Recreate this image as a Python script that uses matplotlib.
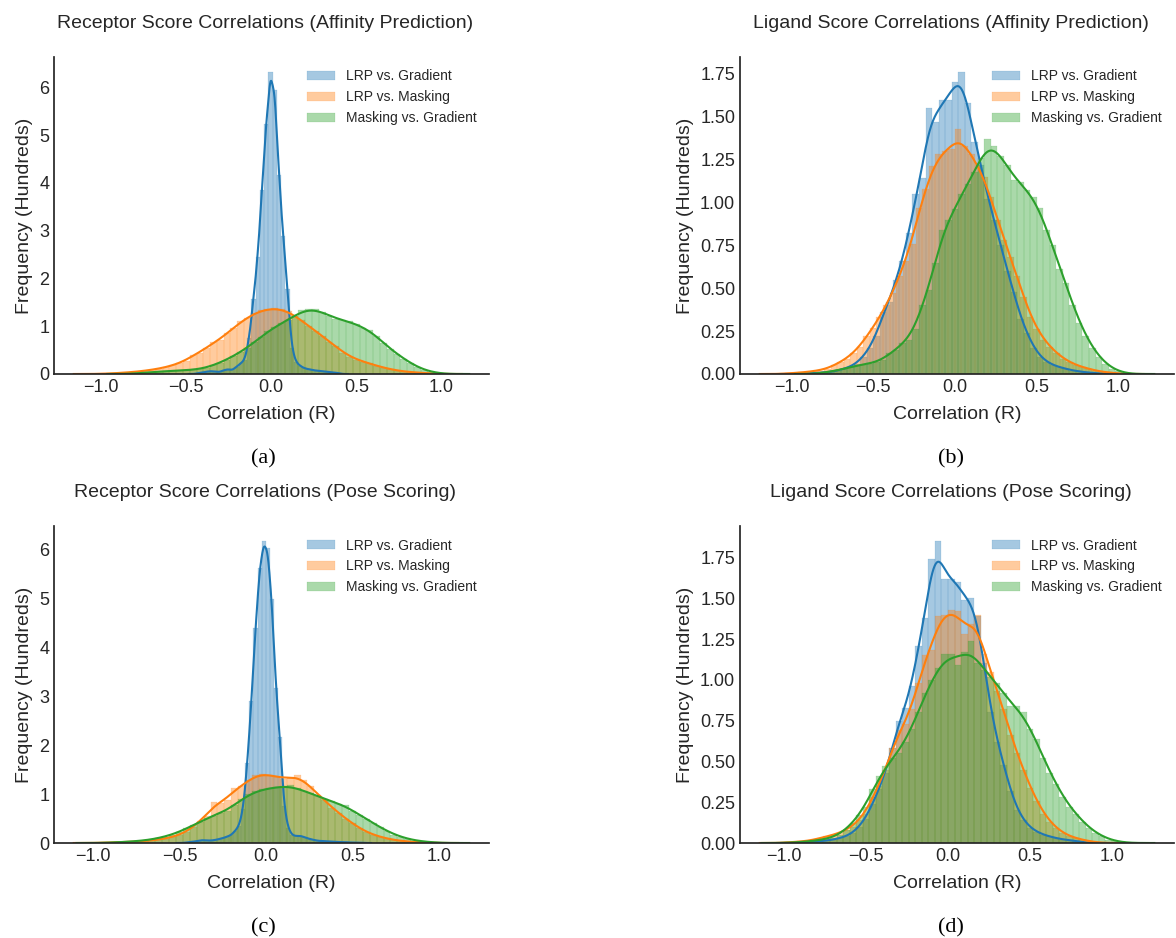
import numpy as np
import matplotlib.pyplot as plt

plt.rcParams['font.family'] = ['Liberation Sans', 'DejaVu Sans']
plt.rcParams['text.color'] = '.15'
plt.rcParams['axes.labelcolor'] = '.15'
plt.rcParams['xtick.color'] = '.15'
plt.rcParams['ytick.color'] = '.15'
plt.rcParams['axes.edgecolor'] = '.15'
plt.rcParams['axes.linewidth'] = 1.25
plt.rcParams['xtick.major.size'] = 0
plt.rcParams['ytick.major.size'] = 0

labels = ['LRP vs. Gradient', 'LRP vs. Masking', 'Masking vs. Gradient']
colors = ['#1f77b4', '#ff7f0e', '#2ca02c']
titles = ['Receptor Score Correlations (Affinity Prediction)',
          'Ligand Score Correlations (Affinity Prediction)',
          'Receptor Score Correlations (Pose Scoring)',
          'Ligand Score Correlations (Pose Scoring)']
captions = ['(a)', '(b)', '(c)', '(d)']
xlabel = 'Correlation (R)'
ylabel = 'Frequency (Hundreds)'

# histograms: left edge of first bin, bin width, bar heights
# (a) receptor, affinity
a_grad_edge, a_grad_width = -0.4425, 0.025
a_grad = [0.02, 0.03, 0.05, 0.06, 0.05, 0.04, 0.08, 0.10, 0.08, 0.15, 0.22, 0.30,
          0.75, 1.57, 2.45, 3.86, 5.24, 6.32, 5.95, 4.17, 2.88, 1.78, 0.55,
          0.25, 0.17, 0.12, 0.10, 0.08, 0.07, 0.06, 0.05, 0.04, 0.03, 0.02]
a_mask_edge, a_mask_width = -1.00, 0.04
a_mask = [0.01, 0.01, 0.02, 0.03, 0.04, 0.05, 0.07, 0.09, 0.11, 0.14, 0.18, 0.22, 0.28,
          0.40, 0.45, 0.55, 0.66, 0.72, 0.85, 0.97, 1.10, 1.18, 1.28, 1.33, 1.36,
          1.39, 1.36, 1.32, 1.22, 1.12, 1.00, 0.90, 0.80, 0.68, 0.58, 0.45, 0.36,
          0.30, 0.26, 0.22, 0.17, 0.13, 0.10, 0.07, 0.05, 0.04, 0.03, 0.02, 0.01]
a_mg_edge, a_mg_width = -0.80, 0.04
a_mg = [0.02, 0.03, 0.04, 0.05, 0.06, 0.06, 0.07, 0.08, 0.09, 0.10,
        0.13, 0.18, 0.24, 0.30, 0.38, 0.46, 0.55, 0.66, 0.78, 0.90,
        0.98, 1.06, 1.14, 1.22, 1.33, 1.37, 1.36, 1.30, 1.22, 1.16,
        1.12, 1.10, 1.05, 0.97, 0.92, 0.80, 0.64, 0.52, 0.42, 0.32,
        0.22, 0.14, 0.08, 0.04, 0.02]

# (b) ligand, affinity
b_grad_edge, b_grad_width = -0.94, 0.04
b_grad = [0.005, 0.005, 0.005, 0.01, 0.01, 0.02, 0.03, 0.04, 0.06, 0.10, 0.15, 0.22,
          0.36, 0.42, 0.55, 0.66, 0.82, 1.05, 1.14, 1.55, 1.47, 1.60, 1.60, 1.70,
          1.76, 1.58, 1.35, 1.22, 1.02, 0.90, 0.75, 0.60, 0.48, 0.32, 0.24, 0.15,
          0.10, 0.07, 0.05, 0.04, 0.03, 0.02, 0.015, 0.01, 0.005, 0.005]
b_mask_edge, b_mask_width = -1.04, 0.04
b_mask = [0.005, 0.005, 0.01, 0.01, 0.02, 0.02, 0.03, 0.05, 0.07, 0.09, 0.12, 0.16, 0.22, 0.27,
          0.33, 0.40, 0.47, 0.57, 0.66, 0.76, 0.97, 1.08, 1.21, 1.28, 1.30, 1.31,
          1.43, 1.33, 1.28, 1.22, 1.15, 1.03, 0.90, 0.78, 0.68, 0.57, 0.45,
          0.33, 0.26, 0.20, 0.16, 0.12, 0.09, 0.07, 0.05, 0.04, 0.03, 0.02, 0.01, 0.01, 0.005]
b_mg_edge, b_mg_width = -0.82, 0.04
b_mg = [0.01, 0.015, 0.02, 0.03, 0.04, 0.05, 0.055, 0.06, 0.07, 0.08,
        0.12, 0.14, 0.18, 0.20, 0.26, 0.40, 0.49, 0.645, 0.84, 0.90,
        0.96, 1.05, 1.11, 1.18, 1.26, 1.37, 1.33, 1.27, 1.22, 1.13,
        1.12, 1.07, 1.03, 0.97, 0.84, 0.75, 0.61, 0.53, 0.40, 0.30,
        0.22, 0.15, 0.10, 0.06, 0.03, 0.015, 0.005]

# (c) receptor, pose
c_grad_edge, c_grad_width = -0.4715, 0.0235
c_grad = [0.01, 0.02, 0.03, 0.05, 0.06, 0.05, 0.05, 0.06, 0.08, 0.10, 0.13, 0.16, 0.25, 0.35,
          0.70, 1.64, 2.90, 4.41, 5.62, 6.18, 6.04, 4.99, 3.18, 2.16, 0.75,
          0.30, 0.16, 0.14, 0.15, 0.12, 0.09, 0.07, 0.05, 0.04, 0.04, 0.03, 0.03,
          0.02, 0.02, 0.02, 0.01, 0.01, 0.01, 0.01]
c_mask_edge, c_mask_width = -0.96, 0.04
c_mask = [0.01, 0.01, 0.015, 0.02, 0.025, 0.03, 0.04, 0.05, 0.07, 0.09, 0.12, 0.16, 0.22,
          0.32, 0.45, 0.56, 0.84, 0.82, 0.89, 1.13, 1.16, 1.28, 1.40, 1.42,
          1.40, 1.36, 1.30, 1.34, 1.40, 1.28, 1.16, 0.98, 0.88, 0.72, 0.62,
          0.50, 0.40, 0.30, 0.22, 0.17, 0.12, 0.09, 0.06, 0.04, 0.03, 0.02, 0.015, 0.01]
c_mg_edge, c_mg_width = -0.92, 0.04
c_mg = [0.01, 0.015, 0.02, 0.03, 0.04, 0.05, 0.07, 0.10, 0.13, 0.17, 0.22,
        0.30, 0.36, 0.43, 0.52, 0.56, 0.62, 0.66, 0.78, 0.90, 1.00, 1.06, 1.10,
        1.12, 1.14, 1.16, 1.19, 1.12, 1.06, 1.02, 0.96, 0.90, 0.85, 0.80, 0.78,
        0.66, 0.58, 0.50, 0.40, 0.32, 0.24, 0.17, 0.12, 0.08, 0.05, 0.03, 0.02, 0.01]

# (d) ligand, pose
d_grad_edge, d_grad_width = -0.92, 0.04
d_grad = [0.005, 0.005, 0.01, 0.01, 0.015, 0.02, 0.03, 0.04, 0.06, 0.10, 0.15,
          0.24, 0.33, 0.43, 0.58, 0.75, 0.83, 0.96, 1.21, 1.38, 1.74, 1.85, 1.62,
          1.62, 1.60, 1.49, 1.50, 1.39, 1.10, 0.80, 0.62, 0.48, 0.32, 0.20,
          0.14, 0.09, 0.07, 0.05, 0.04, 0.03, 0.02, 0.02, 0.01, 0.005]
d_mask_edge, d_mask_width = -1.00, 0.04
d_mask = [0.005, 0.005, 0.01, 0.01, 0.02, 0.03, 0.04, 0.05, 0.06, 0.08, 0.10, 0.14, 0.18,
          0.28, 0.35, 0.45, 0.58, 0.69, 0.73, 0.82, 0.98, 1.15, 1.18, 1.39, 1.40,
          1.43, 1.42, 1.28, 1.34, 1.40, 1.16, 1.05, 0.93, 0.82, 0.66, 0.55,
          0.45, 0.34, 0.26, 0.18, 0.13, 0.09, 0.06, 0.04, 0.03, 0.02, 0.01, 0.005]
d_mg_edge, d_mg_width = -0.96, 0.04
d_mg = [0.005, 0.005, 0.01, 0.01, 0.02, 0.025, 0.03, 0.05, 0.08, 0.12, 0.17, 0.22,
        0.33, 0.41, 0.47, 0.52, 0.55, 0.62, 0.70, 0.80, 0.92, 1.00, 1.07, 1.16,
        1.16, 1.09, 1.17, 1.24, 1.10, 1.06, 1.02, 0.98, 0.92, 0.84, 0.84,
        0.80, 0.70, 0.64, 0.52, 0.43, 0.36, 0.28, 0.22, 0.18, 0.13, 0.09, 0.06,
        0.04, 0.02, 0.01, 0.005]

panels = [
    [(a_grad_edge, a_grad_width, a_grad), (a_mask_edge, a_mask_width, a_mask), (a_mg_edge, a_mg_width, a_mg)],
    [(b_grad_edge, b_grad_width, b_grad), (b_mask_edge, b_mask_width, b_mask), (b_mg_edge, b_mg_width, b_mg)],
    [(c_grad_edge, c_grad_width, c_grad), (c_mask_edge, c_mask_width, c_mask), (c_mg_edge, c_mg_width, c_mg)],
    [(d_grad_edge, d_grad_width, d_grad), (d_mask_edge, d_mask_width, d_mask), (d_mg_edge, d_mg_width, d_mg)],
]

n_obs = 5000  # assumed sample count for Scott's bandwidth


# gaussian kde of the binned values, scaled to the bar area
def kde_line(edge, width, heights):
    h = np.asarray(heights, dtype=float)
    centers = edge + width * (np.arange(len(h)) + 0.5)
    wts = h * width
    area = wts.sum()
    p = wts / area
    mean = np.sum(p * centers)
    std = np.sqrt(np.sum(p * (centers - mean) ** 2))
    bw = std * n_obs ** -0.2
    x = np.linspace(edge - 3 * bw, edge + width * len(h) + 3 * bw, 600)
    z = (x[:, None] - centers[None, :]) / bw
    y = (p[None, :] * np.exp(-0.5 * z ** 2)).sum(axis=1) / (bw * np.sqrt(2 * np.pi))
    return x, y * area


W, H = 1176, 938
fig = plt.figure(figsize=(W / 100, H / 100), dpi=100)

# axes boxes in pixels: left, top, right, bottom
boxes = [(54, 57, 489, 374), (740, 57, 1174, 374),
         (54, 526, 489, 843), (740, 526, 1174, 843)]
caption_pos = [(263, 459), (951, 459), (263, 928), (951, 928)]

for i, (box, series) in enumerate(zip(boxes, panels)):
    l, t, r, b = box
    ax = fig.add_axes([l / W, 1 - b / H, (r - l) / W, (b - t) / H])
    for (edge, width, heights), lab, col in zip(series, labels, colors):
        lefts = edge + width * np.arange(len(heights))
        ax.bar(lefts, heights, width=width, align='edge', color=col,
               alpha=0.4, edgecolor=col, linewidth=0.2, label=lab)
        x, y = kde_line(edge, width, heights)
        ax.plot(x, y, color=col, lw=1.5)
    ax.spines['top'].set_visible(False)
    ax.spines['right'].set_visible(False)
    ax.set_xticks([-1.0, -0.5, 0.0, 0.5, 1.0])
    if i in (1, 3):
        ax.set_yticks([0, 0.25, 0.5, 0.75, 1.0, 1.25, 1.5, 1.75])
        ax.yaxis.set_major_formatter(plt.FormatStrFormatter('%.2f'))
    ax.tick_params(labelsize=13)
    ax.set_xlabel(xlabel, fontsize=14, labelpad=7)
    ax.set_ylabel(ylabel, fontsize=14)
    ax.set_title(titles[i], fontsize=14, pad=21, x=0.486)
    ax.legend(loc='upper right', frameon=False, fontsize=10)
    cx, cy = caption_pos[i]
    fig.text(cx / W, 1 - cy / H, captions[i], ha='center', va='center',
             fontsize=16, family='Liberation Serif', color='black')

plt.savefig('out.png', dpi=100)
